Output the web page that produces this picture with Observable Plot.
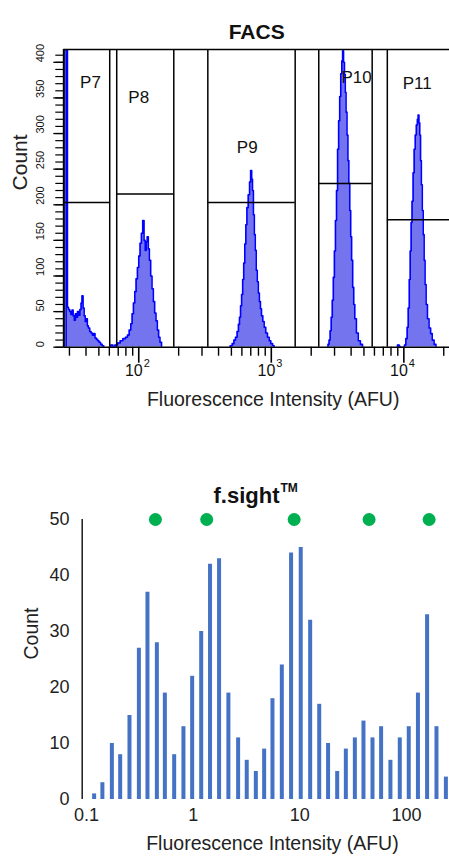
<!DOCTYPE html>
<html><head><meta charset="utf-8">
<script src="https://cdn.jsdelivr.net/npm/d3@7"></script>
<script src="https://cdn.jsdelivr.net/npm/@observablehq/plot@0.6"></script>
<style>
body{margin:0;background:#fff;}
#c svg{display:block;}
</style></head><body><div id="c"></div>
<script>
// ---------------- FACS (top panel) ----------------
const facsYTicks = [0, 50, 100, 150, 200, 250, 300, 350, 400];
const facsXMajor = [100, 1000, 10000];
const facsXMajorBase = ["10", "10", "10"];
const facsXMajorExp = ["2", "3", "4"];
const facsXMinor = [30,40,50,60,70,80,90,200,300,400,500,600,700,800,900,2000,3000,4000,5000,6000,7000,8000,9000,20000];

const gateNames  = ["P7", "P8", "P9", "P10", "P11"];
const gateLeft   = [27.2, 68.2, 332, 2281, 7503];
const gateRight  = [60.4, 183.8, 1514, 5768, 30000];
const gateLevel  = [203, 215, 203, 230, 179];
const gateLabelX = [43.2, 100, 658, 4395, 12620];
const gateLabelY = [372, 351, 281, 378, 370];

// histogram bins: log10(intensity) of bin start, and count
const p7Log   = [1.448,1.452,1.462,1.470,1.479,1.488,1.497,1.505,1.513,1.522,1.530,1.538,1.547,1.556,1.565,1.572,1.580,1.588,1.596,1.604,1.612,1.620,1.630,1.640,1.650,1.660,1.670,1.680,1.690,1.700,1.712,1.724,1.736];
const p7Count = [0,2000,56,53,50,46,52,44,38,47,42,50,45,53,62,72,55,44,36,40,30,27,22,20,17,19,13,11,9,7,4,2,0];
const p8Log   = [1.782,1.790,1.805,1.820,1.840,1.860,1.880,1.900,1.915,1.928,1.940,1.950,1.960,1.970,1.980,1.990,2.000,2.010,2.020,2.030,2.040,2.048,2.056,2.064,2.072,2.080,2.090,2.100,2.110,2.120,2.130,2.140,2.150,2.160,2.172];
const p8Count = [0,3,1,3,6,9,12,14,17,24,33,47,62,78,96,112,128,146,160,178,150,136,148,155,138,122,100,82,64,48,37,24,14,7,0];
const p9Log   = [2.686,2.690,2.705,2.718,2.730,2.742,2.752,2.760,2.768,2.776,2.784,2.792,2.800,2.808,2.816,2.826,2.836,2.844,2.852,2.858,2.865,2.872,2.879,2.886,2.894,2.902,2.910,2.918,2.926,2.936,2.946,2.958,2.971,2.984,2.996,3.010,3.022];
const p9Count = [0,2,5,10,14,22,32,42,58,74,95,118,145,172,196,214,232,248,236,220,186,158,136,108,92,76,64,54,44,36,28,20,14,9,5,2,0];
const p10Log   = [3.422,3.428,3.436,3.444,3.452,3.460,3.468,3.476,3.484,3.492,3.500,3.508,3.516,3.524,3.532,3.538,3.545,3.552,3.558,3.564,3.571,3.578,3.585,3.592,3.599,3.606,3.614,3.622,3.630,3.642,3.656,3.672,3.688];
const p10Count = [0,4,10,23,42,66,98,135,178,220,278,318,352,384,402,416,400,383,358,330,298,262,230,192,155,122,84,60,40,20,9,4,0];
const p11Log   = [3.948,3.952,3.965,3.975,4.005,4.015,4.025,4.033,4.041,4.048,4.055,4.062,4.070,4.078,4.086,4.094,4.102,4.108,4.114,4.120,4.126,4.132,4.139,4.146,4.153,4.160,4.168,4.178,4.190,4.202,4.214,4.228,4.242];
const p11Count = [0,3,1,0,3,12,28,55,95,135,175,205,245,278,298,312,320,326,315,298,262,228,192,158,122,88,60,40,27,19,10,4,0];

// ---------------- f.sight (bottom panel) ----------------
const fsBinCenter = [0.118,0.141,0.173,0.207,0.253,0.310,0.373,0.457,0.543,0.664,0.811,0.979,1.19,1.44,1.75,2.14,2.64,3.18,3.87,4.63,5.54,6.78,8.28,10.2,12.5,15.2,18.4,22.4,27.0,32.8,39.5,48.0,57.8,70.7,86.5,105,128,156,191,234];
const fsCount = [1,3,10,8,15,27,37,28,19,8,13,22,30,42,43,19,11,7,5,9,18,24,44,45,32,17,10,5,9,11,14,11,13,7,11,13,19,33,13,4];
const fsPeakMarks = [0.443, 1.34, 8.85, 44.6, 163];
const fsYTicks = [0, 10, 20, 30, 40, 50];
const fsXTicks = [0.1, 1, 10, 100];
const fsXTickLabels = ["0.1", "1", "10", "100"];

// ---------------- build ----------------
const font = "'Liberation Sans', Arial, Helvetica, sans-serif";
const W = 449;

const peaks = [["P7", p7Log, p7Count], ["P8", p8Log, p8Count], ["P9", p9Log, p9Count], ["P10", p10Log, p10Count], ["P11", p11Log, p11Count]];
const hist = [];
for (const [name, lg, ct] of peaks) lg.forEach((l, i) => hist.push({peak: name, x: Math.pow(10, l), y: ct[i]}));
const gates = gateNames.map((n, i) => ({name: n, left: gateLeft[i], right: gateRight[i], level: gateLevel[i], lx: gateLabelX[i], ly: gateLabelY[i]}));
const xMin = 27.2, xMax = 22100, yMax = 418;

const topPlot = Plot.plot({
  width: W, height: 430,
  marginLeft: 63.3, marginRight: 0, marginTop: 49, marginBottom: 83.3,
  style: {fontFamily: font, background: "white", color: "black", overflow: "visible"},
  x: {type: "log", domain: [xMin, xMax]},
  y: {domain: [0, yMax]},
  marks: [
    Plot.areaY(hist, {x: "x", y: "y", z: "peak", curve: "step-after", fill: "#7474ef", clip: true}),
    Plot.lineY(hist, {x: "x", y: "y", z: "peak", curve: "step-after", stroke: "#0000ff", strokeWidth: 1.6, clip: true}),
    Plot.ruleX(gates, {x: "left", stroke: "black", strokeWidth: 1.5}),
    Plot.ruleX(gates.filter(d => d.right < xMax), {x: "right", stroke: "black", strokeWidth: 1.5}),
    Plot.ruleY(gates, {y: "level", x1: "left", x2: "right", stroke: "black", strokeWidth: 1.5, clip: true}),
    Plot.text(gates, {x: "lx", y: "ly", text: "name", fontSize: 17, fill: "#111"}),
    Plot.ruleY([0], {stroke: "black", strokeWidth: 1.6}),
    Plot.ruleY([yMax], {stroke: "black", strokeWidth: 1.5}),
    Plot.ruleX([xMin], {stroke: "black", strokeWidth: 2}),
    Plot.axisY(d3.range(0, 411, 10), {anchor: "left", tickSize: 8, tickFormat: () => "", label: null, strokeWidth: 1.2}),
    Plot.axisY(facsYTicks, {anchor: "left", tickSize: 10, tickFormat: () => "", label: null, strokeWidth: 1.3}),
    Plot.axisX(facsXMinor, {anchor: "bottom", tickSize: 9, tickFormat: () => "", label: null, strokeWidth: 1.4}),
    Plot.axisX(facsXMajor, {anchor: "bottom", tickSize: 16, tickFormat: () => "", label: null, strokeWidth: 1.6}),
    Plot.text(facsYTicks, {y: d => d, text: d => String(d), frameAnchor: "left", dx: -23.3, rotate: -90, fontSize: 11, fill: "#111"}),
    Plot.text(facsXMajor, {x: d => d, text: (d, i) => facsXMajorBase[i], frameAnchor: "bottom", dy: 28.3, dx: 4, textAnchor: "end", fontSize: 16, fill: "#111"}),
    Plot.text(facsXMajor, {x: d => d, text: (d, i) => facsXMajorExp[i], frameAnchor: "bottom", dy: 20, dx: 5, textAnchor: "start", fontSize: 11, fill: "#111"}),
    Plot.text(["FACS"], {text: d => d, frameAnchor: "top", dy: -25.7, fontSize: 21, fontWeight: "bold", fill: "#111"}),
    Plot.text(["Count"], {text: d => d, frameAnchor: "left", dx: -43.3, dy: -7.9, rotate: -90, fontSize: 21, fill: "#222"}),
    Plot.text(["Fluorescence Intensity (AFU)"], {text: d => d, frameAnchor: "bottom", dx: 16.5, dy: 58.3, fontSize: 19.5, fill: "#222"})
  ]
});

const fsBins = fsBinCenter.map((x, i) => ({x, y: fsCount[i]}));
const fsMin = 0.0912, fsMax = 253;
const bottomPlot = Plot.plot({
  width: W, height: 429,
  marginLeft: 81.7, marginRight: 0, marginTop: 89, marginBottom: 60,
  style: {fontFamily: font, background: "white", color: "black", overflow: "visible"},
  x: {type: "log", domain: [fsMin, fsMax], axis: null},
  y: {domain: [0, 50], axis: null},
  marks: [
    Plot.ruleX(fsBins, {x: "x", y1: 0, y2: "y", stroke: "#4472c4", strokeWidth: 4}),
    Plot.ruleX([fsMin], {stroke: "#1a1a1a", strokeWidth: 1.5}),
    Plot.dot(fsPeakMarks, {x: d => d, y: () => 50, r: 6.5, fill: "#00b050", stroke: "none"}),
    Plot.text(fsYTicks, {y: d => d, text: d => String(d), frameAnchor: "left", dx: -12.7, textAnchor: "end", fontSize: 18, fill: "#222"}),
    Plot.text(fsXTicks, {x: d => d, text: (d, i) => fsXTickLabels[i], frameAnchor: "bottom", dy: 21.7, fontSize: 18, fill: "#222"}),
    Plot.text(["Count"], {text: d => d, frameAnchor: "left", dx: -50, rotate: -90, fontSize: 19.5, fill: "#222"}),
    Plot.text(["Fluorescence Intensity (AFU)"], {text: d => d, frameAnchor: "bottom", dx: 6.6, dy: 50, fontSize: 19.5, fill: "#222"}),
    Plot.text(["f.sight"], {text: d => d, frameAnchor: "top-left", dx: 131.3, dy: -32, textAnchor: "start", fontSize: 22, fontWeight: "bold", fill: "#111"}),
    Plot.text(["TM"], {text: d => d, frameAnchor: "top-left", dx: 198.3, dy: -36, textAnchor: "start", fontSize: 12, fontWeight: "bold", fill: "#111"})
  ]
});

const c = document.getElementById("c");
c.appendChild(topPlot);
c.appendChild(bottomPlot);
</script>
</body></html>
